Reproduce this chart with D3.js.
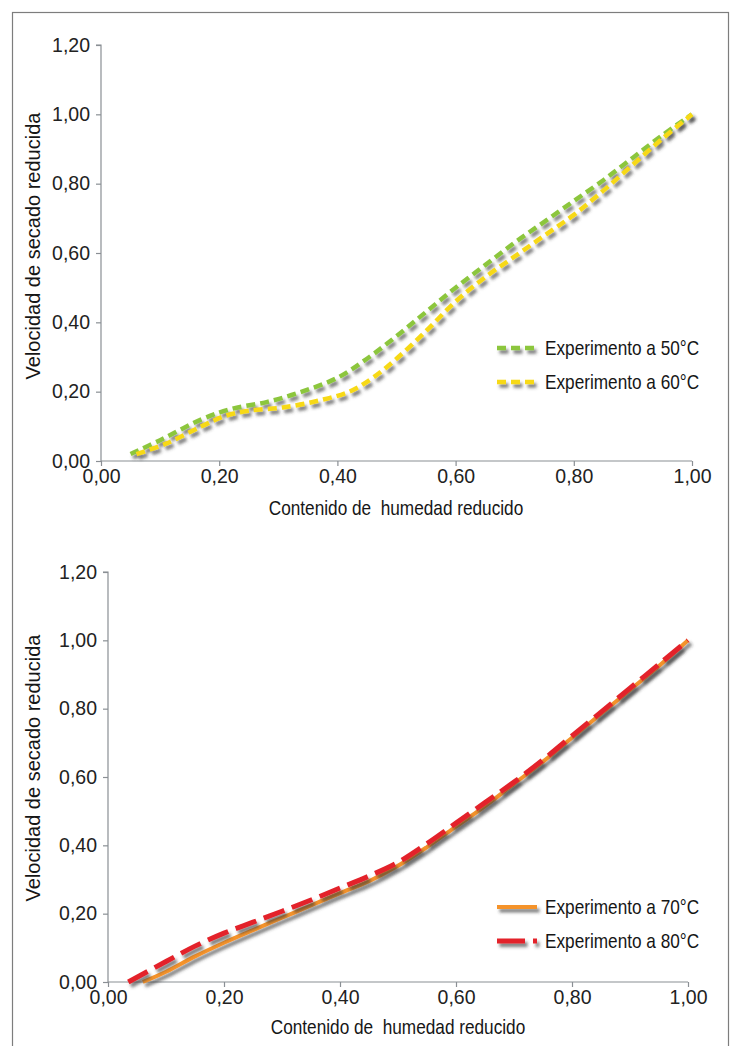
<!DOCTYPE html>
<html>
<head>
<meta charset="utf-8">
<script src="https://cdn.jsdelivr.net/npm/d3@7"></script>
<style>
  html, body { margin: 0; padding: 0; background: #fff; }
  svg { display: block; }
  .tick text { font-family: "Liberation Sans", Arial, sans-serif; font-size: 19.5px; fill: #222; }
  .axis path, .axis line { stroke: #8a8f94; stroke-width: 1.2px; }
  .cond { font-family: "Liberation Sans", Arial, sans-serif; fill: #161616; }
</style>
</head>
<body>
<script>
// Reduced drying rate vs reduced moisture content
const xTicks = [0, 0.2, 0.4, 0.6, 0.8, 1.0];
const yTicks = [0, 0.2, 0.4, 0.6, 0.8, 1.0, 1.2];

const x50 = [0.05, 0.10, 0.17, 0.22, 0.28, 0.34, 0.40, 0.45, 0.50, 0.55, 0.60, 0.65, 0.70, 0.75, 0.80, 0.85, 0.90, 0.95, 1.00];
const y50 = [0.02, 0.06, 0.12, 0.15, 0.17, 0.20, 0.24, 0.295, 0.36, 0.43, 0.50, 0.565, 0.63, 0.69, 0.75, 0.81, 0.875, 0.94, 1.00];

const x60 = [0.06, 0.11, 0.17, 0.21, 0.25, 0.31, 0.37, 0.42, 0.46, 0.50, 0.55, 0.60, 0.65, 0.70, 0.75, 0.80, 0.85, 0.90, 0.95, 1.00];
const y60 = [0.02, 0.05, 0.10, 0.13, 0.145, 0.155, 0.175, 0.20, 0.24, 0.295, 0.375, 0.46, 0.53, 0.59, 0.65, 0.71, 0.78, 0.855, 0.93, 1.00];

const x70 = [0.06, 0.10, 0.15, 0.20, 0.25, 0.30, 0.35, 0.40, 0.45, 0.50, 0.55, 0.60, 0.65, 0.70, 0.75, 0.80, 0.85, 0.90, 0.95, 1.00];
const y70 = [0.00, 0.03, 0.075, 0.115, 0.152, 0.188, 0.224, 0.26, 0.295, 0.34, 0.395, 0.455, 0.515, 0.58, 0.645, 0.715, 0.785, 0.855, 0.925, 1.00];

const x80 = [0.035, 0.10, 0.15, 0.20, 0.25, 0.30, 0.35, 0.40, 0.45, 0.50, 0.55, 0.60, 0.65, 0.70, 0.75, 0.80, 0.85, 0.90, 0.95, 1.00];
const y80 = [0.00, 0.06, 0.105, 0.143, 0.175, 0.207, 0.24, 0.275, 0.31, 0.35, 0.405, 0.465, 0.525, 0.585, 0.65, 0.72, 0.79, 0.86, 0.93, 1.00];

const xTitle = "Contenido de\u00a0 humedad reducido";
const yTitle = "Velocidad de secado reducida";

const W = 734, H = 1046;
const svg = d3.select("body").append("svg").attr("width", W).attr("height", H);

// soft drop shadow under the curves (user-space region so flat lines keep it)
const defs = svg.append("defs");
const f = defs.append("filter").attr("id", "shadow")
  .attr("filterUnits", "userSpaceOnUse")
  .attr("x", 0).attr("y", 0).attr("width", W).attr("height", H);
f.append("feDropShadow").attr("dx", 2.5).attr("dy", 3.5).attr("stdDeviation", 1.8)
  .attr("flood-color", "#3a3a3a").attr("flood-opacity", 0.65);

// outer frame
svg.append("rect").attr("x", 12.5).attr("y", 12.5).attr("width", 716).attr("height", 1060)
  .attr("fill", "none").attr("stroke", "#7d7d7d").attr("stroke-width", 1.2);

const fmt = d => d3.format(".2f")(d).replace(".", ",");

// horizontally condensed label
function condText(g, x, y, size, anchor, str) {
  g.append("text").attr("class", "cond")
    .attr("transform", `translate(${x},${y}) scale(0.82,1)`)
    .attr("text-anchor", anchor).attr("font-size", size).text(str);
}

function panel(cfg) {
  const x = d3.scaleLinear().domain([0, 1]).range(cfg.xr);
  const y = d3.scaleLinear().domain([0, 1.2]).range(cfg.yr);
  const g = svg.append("g");

  const yAx = g.append("g").attr("class", "axis")
    .attr("transform", `translate(${cfg.xr[0]},0)`)
    .call(d3.axisLeft(y).tickValues(yTicks).tickFormat(fmt).tickSize(5).tickPadding(6));
  yAx.select(".domain").attr("d", `M-5,${y(1.2)}H0V${y(0)}`);

  const xAx = g.append("g").attr("class", "axis")
    .attr("transform", `translate(0,${cfg.yr[0]})`)
    .call(d3.axisBottom(x).tickValues(xTicks).tickFormat(fmt).tickSize(5).tickPadding(3));
  xAx.select(".domain").attr("d", `M${x(0)},0H${x(1)}`);

  condText(g, cfg.xTitleX, cfg.xTitleY, 21, "middle", xTitle);

  g.append("text").attr("class", "cond")
    .attr("transform", `translate(${cfg.yTitleX},${cfg.yTitleY}) rotate(-90)`)
    .attr("text-anchor", "middle").attr("font-size", 20).text(yTitle);

  const line = d3.line().x(d => x(d[0])).y(d => y(d[1])).curve(d3.curveCatmullRom.alpha(0.5));

  cfg.series.forEach(s => {
    const pts = s.xs.map((v, k) => [v, s.ys[k]]);
    g.append("path").attr("d", line(pts))
      .attr("fill", "none").attr("stroke", s.color).attr("stroke-width", s.width)
      .attr("stroke-dasharray", s.dash).attr("filter", "url(#shadow)");
  });

  // legend
  cfg.series.forEach((s, i) => {
    const ly = cfg.legY[i];
    g.append("line").attr("x1", cfg.legX).attr("x2", cfg.legX + 40)
      .attr("y1", ly).attr("y2", ly)
      .attr("stroke", s.color).attr("stroke-width", s.width)
      .attr("stroke-dasharray", s.legDash).attr("filter", "url(#shadow)");
    condText(g, cfg.legX + 48, ly + 7, 21, "start", s.name);
  });
}

panel({
  xr: [101, 692], yr: [461, 45],
  xTitleX: 396, xTitleY: 515,
  yTitleX: 40, yTitleY: 246,
  legX: 497, legY: [348, 382],
  series: [
    { name: "Experimento a 50\u00b0C", xs: x50, ys: y50, color: "#8cc63e", width: 4.5, dash: "9,5", legDash: "9,5" },
    { name: "Experimento a 60\u00b0C", xs: x60, ys: y60, color: "#f7d917", width: 4.5, dash: "9,5", legDash: "9,5" }
  ]
});

panel({
  xr: [108, 688], yr: [982, 572],
  xTitleX: 398, xTitleY: 1034,
  yTitleX: 40, yTitleY: 768,
  legX: 497, legY: [907, 941],
  series: [
    { name: "Experimento a 70\u00b0C", xs: x70, ys: y70, color: "#f5932b", width: 4, dash: null, legDash: null },
    { name: "Experimento a 80\u00b0C", xs: x80, ys: y80, color: "#e3222b", width: 5, dash: "22,8", legDash: "28,8,4,100" }
  ]
});
</script>
</body>
</html>
